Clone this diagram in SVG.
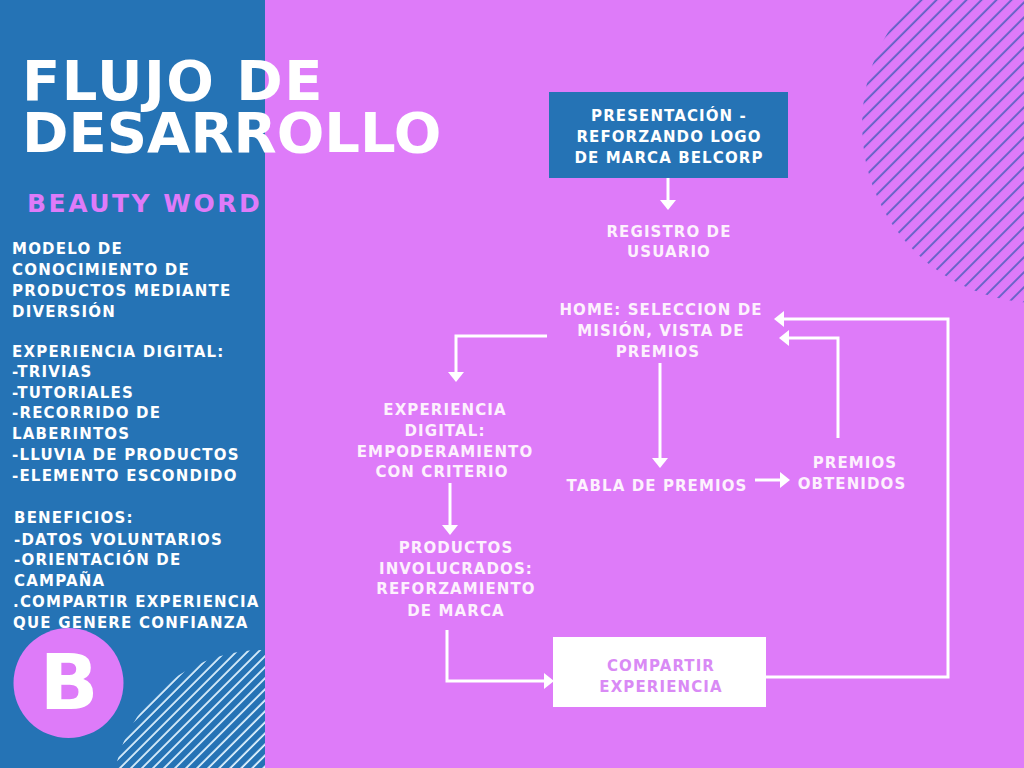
<svg xmlns="http://www.w3.org/2000/svg" width="1024" height="768" viewBox="0 0 1024 768">
<style>
.t{font-family:"DejaVu Sans","Liberation Sans",sans-serif;font-weight:bold;}
.title{font-size:56px;fill:#ffffff;}
.sub{font-size:25px;fill:#DE7BF9;letter-spacing:2.5px;}
.body{font-size:15px;fill:#ffffff;letter-spacing:1.2px;}
.node{font-size:15px;fill:#FDF1FD;letter-spacing:1.1px;text-anchor:middle;}
.nodew{font-size:15px;fill:#ffffff;letter-spacing:1.1px;text-anchor:middle;}
.nodep{font-size:15px;fill:#D98AF5;letter-spacing:1.1px;text-anchor:middle;}
.c{fill:none;stroke:#ffffff;stroke-width:3;stroke-linejoin:miter;marker-end:url(#ah);}
</style>
<defs>
<marker id="ah" viewBox="0 -8 10 16" refX="0" refY="0" markerWidth="10" markerHeight="16" markerUnits="userSpaceOnUse" orient="auto">
<path d="M0,-8 L10,0 L0,8 Z" fill="#ffffff"/>
</marker>
<pattern id="hatchTR" patternUnits="userSpaceOnUse" width="10.6" height="10.6" patternTransform="rotate(45)">
<line x1="5" y1="0" x2="5" y2="10.6" stroke="#5A60C2" stroke-width="1.8"/>
</pattern>
<pattern id="hatchBL" patternUnits="userSpaceOnUse" width="7.8" height="7.8" patternTransform="rotate(45)">
<line x1="4" y1="0" x2="4" y2="7.8" stroke="#E2F4FF" stroke-width="1.8"/>
</pattern>
<clipPath id="leftclip"><rect x="0" y="0" width="265" height="768"/></clipPath>
</defs>

<rect x="0" y="0" width="1024" height="768" fill="#DE7BF9"/>
<rect x="0" y="0" width="265" height="768" fill="#2573B5"/>

<circle cx="1040" cy="125" r="178" fill="url(#hatchTR)"/>
<circle cx="262" cy="800" r="150" fill="url(#hatchBL)" clip-path="url(#leftclip)"/>

<g id="title">
<text class="t title"><tspan x="22" y="100" letter-spacing="1.5">FLUJO DE</tspan><tspan x="22" y="152" letter-spacing="0">DESARROLLO</tspan></text>
<text class="t sub" x="27" y="212">BEAUTY WORD</text>
</g>

<g id="left-text" class="t body">
<text x="12" y="254">MODELO DE</text>
<text x="12" y="275">CONOCIMIENTO DE</text>
<text x="12" y="296">PRODUCTOS MEDIANTE</text>
<text x="12" y="317">DIVERSIÓN</text>
<text x="12" y="357">EXPERIENCIA DIGITAL:</text>
<text x="12" y="377">-TRIVIAS</text>
<text x="12" y="398">-TUTORIALES</text>
<text x="12" y="418">-RECORRIDO DE</text>
<text x="12" y="439">LABERINTOS</text>
<text x="12" y="460">-LLUVIA DE PRODUCTOS</text>
<text x="12" y="481">-ELEMENTO ESCONDIDO</text>
<text x="14" y="523">BENEFICIOS:</text>
<text x="14" y="545">-DATOS VOLUNTARIOS</text>
<text x="14" y="565">-ORIENTACIÓN DE</text>
<text x="14" y="586">CAMPAÑA</text>
<text x="13" y="607">.COMPARTIR EXPERIENCIA</text>
<text x="13" y="628">QUE GENERE CONFIANZA</text>
</g>

<g id="logo-b">
<circle cx="68.5" cy="683" r="55" fill="#DE7BF9"/>
<text class="t" x="69" y="709" font-size="77" fill="#ffffff" text-anchor="middle">B</text>
</g>

<g id="connectors">
<polyline class="c" points="668,178 668,200"/>
<polyline class="c" points="547,336 456,336 456,372"/>
<polyline class="c" points="660,363 660,458"/>
<polyline class="c" points="755,480 780,480"/>
<polyline class="c" points="838,438 838,338 789,338"/>
<polyline class="c" points="450,483 450,525"/>
<polyline class="c" points="447,630 447,681 544,681"/>
<polyline class="c" points="766,677 948,677 948,319 784,319"/>
</g>

<g id="n-presentacion">
<rect x="549" y="92" width="239" height="86" fill="#2573B5"/>
<text class="t nodew" x="669" y="121">PRESENTACIÓN -</text>
<text class="t nodew" x="669" y="142">REFORZANDO LOGO</text>
<text class="t nodew" x="669" y="163">DE MARCA BELCORP</text>
</g>

<g id="n-registro">
<text class="t node" x="669" y="237">REGISTRO DE</text>
<text class="t node" x="669" y="257">USUARIO</text>
</g>

<g id="n-home">
<text class="t node" x="661" y="315">HOME: SELECCION DE</text>
<text class="t node" x="661" y="336">MISIÓN, VISTA DE</text>
<text class="t node" x="658" y="357">PREMIOS</text>
</g>

<g id="n-experiencia">
<text class="t node" x="445" y="415">EXPERIENCIA</text>
<text class="t node" x="445" y="436">DIGITAL:</text>
<text class="t node" x="445" y="457">EMPODERAMIENTO</text>
<text class="t node" x="442" y="477">CON CRITERIO</text>
</g>

<g id="n-tabla">
<text class="t node" x="657" y="491">TABLA DE PREMIOS</text>
</g>

<g id="n-premios">
<text class="t node" x="855" y="468">PREMIOS</text>
<text class="t node" x="852" y="489">OBTENIDOS</text>
</g>

<g id="n-productos">
<text class="t node" x="456" y="553">PRODUCTOS</text>
<text class="t node" x="456" y="574">INVOLUCRADOS:</text>
<text class="t node" x="456" y="594">REFORZAMIENTO</text>
<text class="t node" x="456" y="616">DE MARCA</text>
</g>

<g id="n-compartir">
<rect x="553" y="637" width="213" height="70" fill="#ffffff"/>
<text class="t nodep" x="661" y="671">COMPARTIR</text>
<text class="t nodep" x="661" y="692">EXPERIENCIA</text>
</g>
</svg>
